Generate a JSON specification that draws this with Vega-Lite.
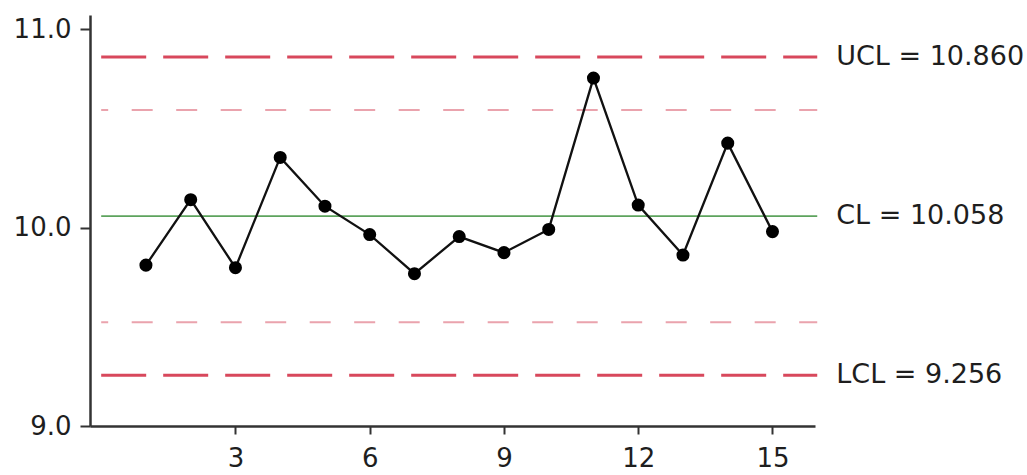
{
  "$schema": "https://vega.github.io/schema/vega-lite/v6.json",
  "width": 725,
  "height": 411,
  "autosize": "none",
  "padding": {"left": 90, "top": 15, "right": 212, "bottom": 49},
  "background": "white",
  "config": {"view": {"stroke": null}, "font": "DejaVu Sans"},
  "datasets": {
    "obs": [
      {"sample": 1, "value": 9.811},
      {"sample": 2, "value": 10.141},
      {"sample": 3, "value": 9.798},
      {"sample": 4, "value": 10.354},
      {"sample": 5, "value": 10.108},
      {"sample": 6, "value": 9.965},
      {"sample": 7, "value": 9.768},
      {"sample": 8, "value": 9.955},
      {"sample": 9, "value": 9.874},
      {"sample": 10, "value": 9.991},
      {"sample": 11, "value": 10.754},
      {"sample": 12, "value": 10.114},
      {"sample": 13, "value": 9.862},
      {"sample": 14, "value": 10.426},
      {"sample": 15, "value": 9.98}
    ],
    "limits": [
      {"name": "UCL", "value": 10.86, "start": 0, "end": 16, "label": "UCL = 10.860"},
      {"name": "CL", "value": 10.058, "start": 0, "end": 16, "label": "CL = 10.058"},
      {"name": "LCL", "value": 9.256, "start": 0, "end": 16, "label": "LCL = 9.256"}
    ],
    "warn": [
      {"name": "U2", "value": 10.593, "start": 0, "end": 16},
      {"name": "L2", "value": 9.523, "start": 0, "end": 16}
    ]
  },
  "layer": [
    {
      "data": {"name": "warn"},
      "mark": {"type": "rule", "color": "#eaa3ad", "strokeWidth": 2, "strokeDash": [21, 23.5], "strokeDashOffset": 14},
      "encoding": {
        "x": {"field": "start", "type": "quantitative"},
        "x2": {"field": "end"},
        "y": {"field": "value", "type": "quantitative"}
      }
    },
    {
      "data": {"name": "limits"},
      "transform": [{"filter": "datum.name != 'CL'"}],
      "mark": {"type": "rule", "color": "#d8485c", "strokeWidth": 3, "strokeDash": [45, 17]},
      "encoding": {
        "x": {"field": "start", "type": "quantitative"},
        "x2": {"field": "end"},
        "y": {"field": "value", "type": "quantitative"}
      }
    },
    {
      "data": {"name": "limits"},
      "transform": [{"filter": "datum.name == 'CL'"}],
      "mark": {"type": "rule", "color": "#5da35d", "strokeWidth": 1.6},
      "encoding": {
        "x": {"field": "start", "type": "quantitative"},
        "x2": {"field": "end"},
        "y": {"field": "value", "type": "quantitative"}
      }
    },
    {
      "data": {"name": "limits"},
      "mark": {"type": "text", "align": "left", "baseline": "middle", "dx": 19, "fontSize": 27, "color": "#1e1e1e"},
      "encoding": {
        "x": {"field": "end", "type": "quantitative"},
        "y": {"field": "value", "type": "quantitative"},
        "text": {"field": "label"}
      }
    },
    {
      "data": {"name": "obs"},
      "mark": {"type": "line", "color": "#111111", "strokeWidth": 2.3},
      "encoding": {
        "x": {
          "field": "sample", "type": "quantitative",
          "scale": {"domain": [-0.25, 15.95], "nice": false, "zero": false},
          "axis": {
            "values": [3, 6, 9, 12, 15], "title": null, "grid": false,
            "domainColor": "#333333", "domainWidth": 2.5, "tickColor": "#333333", "tickWidth": 2, "tickSize": 8,
            "labelFontSize": 26, "labelColor": "#1e1e1e", "labelPadding": 11, "labelFont": "DejaVu Sans"
          }
        },
        "y": {
          "field": "value", "type": "quantitative",
          "scale": {"domain": [9.0, 11.072], "nice": false, "zero": false},
          "axis": {
            "values": [9, 10, 11], "format": ".1f", "title": null, "grid": false,
            "domainColor": "#333333", "domainWidth": 2.5, "tickColor": "#333333", "tickWidth": 2, "tickSize": 10,
            "labelFontSize": 26, "labelColor": "#1e1e1e", "labelPadding": 9, "labelFont": "DejaVu Sans"
          }
        }
      }
    },
    {
      "data": {"name": "obs"},
      "mark": {"type": "point", "filled": true, "color": "#000000", "size": 170, "opacity": 1},
      "encoding": {
        "x": {"field": "sample", "type": "quantitative"},
        "y": {"field": "value", "type": "quantitative"}
      }
    }
  ]
}
